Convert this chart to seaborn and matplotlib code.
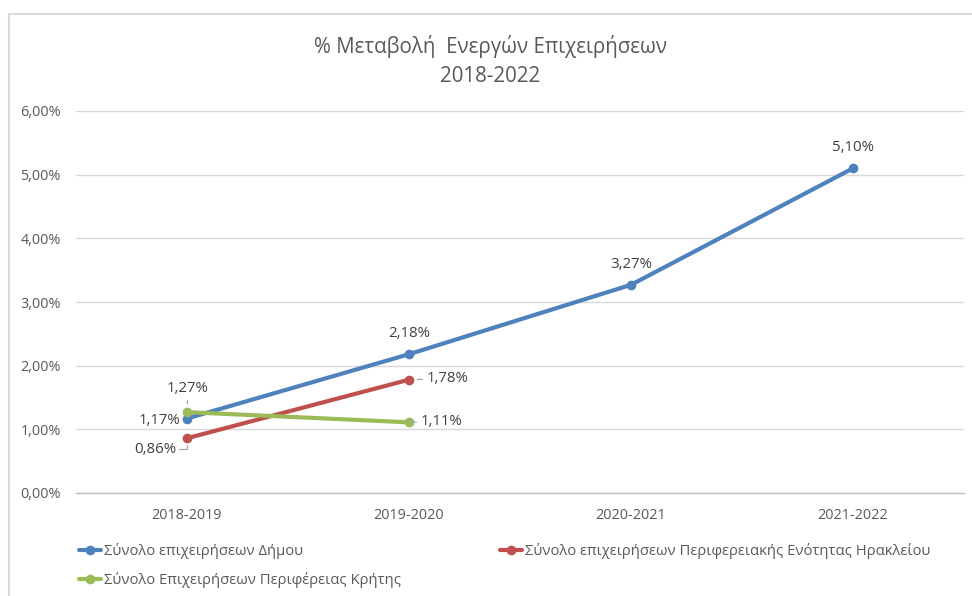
import matplotlib
matplotlib.use("Agg")
import matplotlib.pyplot as plt
from matplotlib.lines import Line2D
from matplotlib.patches import Rectangle
from matplotlib.ticker import FuncFormatter, FixedLocator
import pandas as pd
import seaborn as sns

periods = ["2018-2019", "2019-2020", "2020-2021", "2021-2022"]
dimos = [1.17, 2.18, 3.27, 5.10]
pe_irakleiou = [0.86, 1.78]
perifereia_kritis = [1.27, 1.11]

series_names = [
    "Σύνολο επιχειρήσεων Δήμου",
    "Σύνολο επιχειρήσεων Περιφερειακής Ενότητας Ηρακλείου",
    "Σύνολο Επιχειρήσεων Περιφέρειας Κρήτης",
]
colors = ["#4F81BD", "#C0504D", "#9BBB59"]

rows = []
for name, vals in zip(series_names, [dimos, pe_irakleiou, perifereia_kritis]):
    for p, v in zip(periods, vals):
        rows.append({"period": p, "value": v, "series": name})
df = pd.DataFrame(rows)

sns.set_style("white")
plt.rcParams["font.family"] = ["Open Sans", "DejaVu Sans"]

fig = plt.figure(figsize=(9.72, 5.96), dpi=100)
ax = fig.add_axes([76 / 972, 1 - 493 / 596, (964 - 76) / 972, (493 - 111) / 596])

sns.lineplot(data=df, x="period", y="value", hue="series", hue_order=series_names,
             palette=colors, marker="o", markersize=7, markeredgewidth=0,
             linewidth=3, sort=False, legend=False, ax=ax)

ax.set_xlim(-0.5, len(periods) - 0.5)
ax.set_ylim(0, 6)
ax.yaxis.set_major_locator(FixedLocator(range(0, 7)))
ax.yaxis.set_major_formatter(FuncFormatter(lambda v, _: f"{v:.2f}%".replace(".", ",")))
ax.set_xticks(range(len(periods)))
ax.set_xticklabels(periods)
ax.xaxis.set_minor_locator(FixedLocator([i - 0.5 for i in range(len(periods) + 1)]))
ax.tick_params(axis="x", which="major", length=0, pad=11, labelsize=10.4, labelcolor="#595959")
ax.tick_params(axis="x", which="minor", length=6, color="#BFBFBF", width=1, direction="out")
ax.tick_params(axis="y", length=0, pad=11, labelsize=10.4, labelcolor="#595959")
ax.set_xlabel("")
ax.set_ylabel("")
ax.grid(axis="y", color="#D9D9D9", lw=1)
ax.set_axisbelow(True)
for s in ["top", "right", "left"]:
    ax.spines[s].set_visible(False)
ax.spines["bottom"].set_color("#BFBFBF")
ax.spines["bottom"].set_linewidth(1)

lbl = dict(fontsize=10.8, color="#404040", textcoords="offset pixels")
lead = dict(arrowstyle="-", color="#A6A6A6", lw=0.9, shrinkA=1, shrinkB=6)

def fmt(v):
    return f"{v:.2f}%".replace(".", ",")

# Δήμος
ax.annotate(fmt(dimos[0]), (0, dimos[0]), xytext=(-7, -2), ha="right", va="center", **lbl)
for i in range(1, len(dimos)):
    ax.annotate(fmt(dimos[i]), (i, dimos[i]), xytext=(0, 13), ha="center", va="bottom", **lbl)
# Π.Ε. Ηρακλείου
ax.annotate(fmt(pe_irakleiou[0]), (0, pe_irakleiou[0]), xytext=(-11, -11), ha="right", va="center",
            arrowprops=dict(lead, shrinkA=0, shrinkB=5, connectionstyle="angle,angleA=0,angleB=90,rad=0"), **lbl)
ax.annotate(fmt(pe_irakleiou[1]), (1, pe_irakleiou[1]), xytext=(18, 1), ha="left", va="center",
            arrowprops=lead, **lbl)
# Περιφέρεια Κρήτης
ax.annotate(fmt(perifereia_kritis[0]), (0, perifereia_kritis[0]), xytext=(1, 16), ha="center", va="bottom",
            arrowprops=lead, **lbl)
ax.annotate(fmt(perifereia_kritis[1]), (1, perifereia_kritis[1]), xytext=(12, 1), ha="left", va="center",
            arrowprops=lead, **lbl)

fig.text(490 / 972, 1 - 61 / 596, "% Μεταβολή  Ενεργών Επιχειρήσεων\n2018-2022",
         ha="center", va="center", fontsize=14.8, color="#595959", linespacing=1.5)

handles = [Line2D([], [], color=c, lw=3, marker="o", markersize=7, markeredgewidth=0) for c in colors]
order = [0, 2, 1]
fig.legend([handles[i] for i in order], [series_names[i] for i in order],
           ncol=2, loc="upper left", bbox_to_anchor=(66 / 972, 1 - 530 / 596),
           frameon=False, fontsize=10.6, labelcolor="#595959", handlelength=1.5,
           handletextpad=0.2, columnspacing=6.7, labelspacing=0.9)

fig.add_artist(Rectangle((9 / 972, -0.1), 1.2, 1.1 - 14 / 596, transform=fig.transFigure,
                         fill=False, edgecolor="#D9D9D9", lw=1.5, clip_on=False))

fig.savefig("out.png", dpi=100, facecolor="white")
